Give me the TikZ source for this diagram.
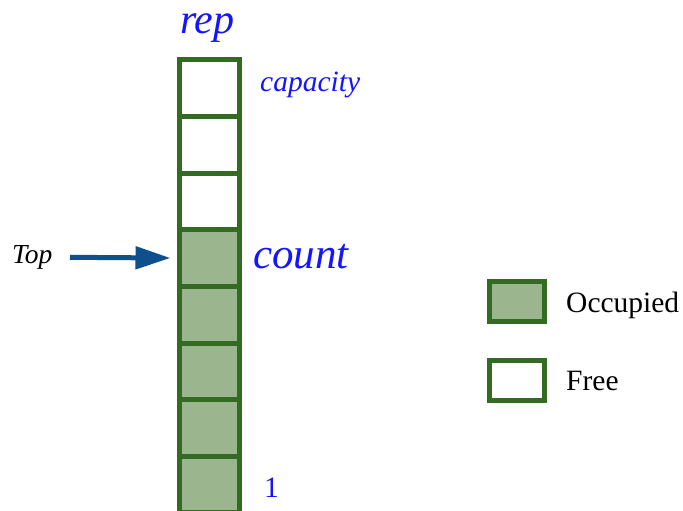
\documentclass[tikz,border=0pt]{standalone}
\usepackage{fontspec}
\setmainfont{Liberation Serif}
\usetikzlibrary{arrows.meta, positioning}

\definecolor{cellline}{RGB}{52,107,34}
\definecolor{cellfill}{RGB}{155,181,143}
\definecolor{toparrowcol}{RGB}{15,79,139}
\definecolor{labelblue}{RGB}{20,20,255}

\tikzset{
  freecell/.style={draw=cellline, line width=5pt, minimum width=60pt,
    minimum height=56.6pt, inner sep=0pt, outer sep=0pt},
  usedcell/.style={freecell, fill=cellfill},
  keybox/.style={draw=cellline, line width=5pt, minimum width=55pt,
    minimum height=40pt, inner sep=0pt, outer sep=0pt},
  bluelabel/.style={text=labelblue, font=\itshape, anchor=base west, inner sep=0pt},
  plainlabel/.style={anchor=base west, inner sep=0pt}
}

\begin{document}
\begin{tikzpicture}[x=1pt, y=-1pt]
    \useasboundingbox (0,0) rectangle (683,511);
    % the stack, top cell first
    \node[freecell] (c1) at (209.5,88.3) {};
    \node[freecell, below=0pt of c1] (c2) {};
    \node[freecell, below=0pt of c2] (c3) {};
    \node[usedcell, below=0pt of c3] (c4) {};
    \node[usedcell, below=0pt of c4] (c5) {};
    \node[usedcell, below=0pt of c5] (c6) {};
    \node[usedcell, below=0pt of c6] (c7) {};
    \node[usedcell, below=0pt of c7] (c8) {};
    % labels
    \node[bluelabel, font=\itshape\fontsize{42}{42}\selectfont] (rep) at (180,34) {rep};
    \node[bluelabel, font=\itshape\fontsize{29.5}{29.5}\selectfont] (cap) at (260,92) {capacity};
    \node[bluelabel, font=\itshape\fontsize{43}{43}\selectfont] (cnt) at (253,268) {count};
    \node[bluelabel, font=\fontsize{29.5}{29.5}\selectfont] (one) at (264,497) {1};
    \node[plainlabel, font=\itshape\fontsize{27.5}{27.5}\selectfont] (top) at (12,263) {Top};
    % pointer to the top
    \coordinate (tail) at (70,257.3);
    \draw[draw=toparrowcol, line width=5pt, shorten >=9pt,
      -{Triangle[length=35pt, width=22pt, fill=toparrowcol]}] (tail) -- (c4.west);
    % key
    \node[keybox, fill=cellfill] (kused) at (517,301.5) {};
    \node[keybox] (kfree) at (517,380.5) {};
    \node[plainlabel, font=\fontsize{29.5}{29.5}\selectfont] (lused) at (566,312) {Occupied};
    \node[plainlabel, font=\fontsize{29.5}{29.5}\selectfont] (lfree) at (566,390) {Free};
\end{tikzpicture}
\end{document}
